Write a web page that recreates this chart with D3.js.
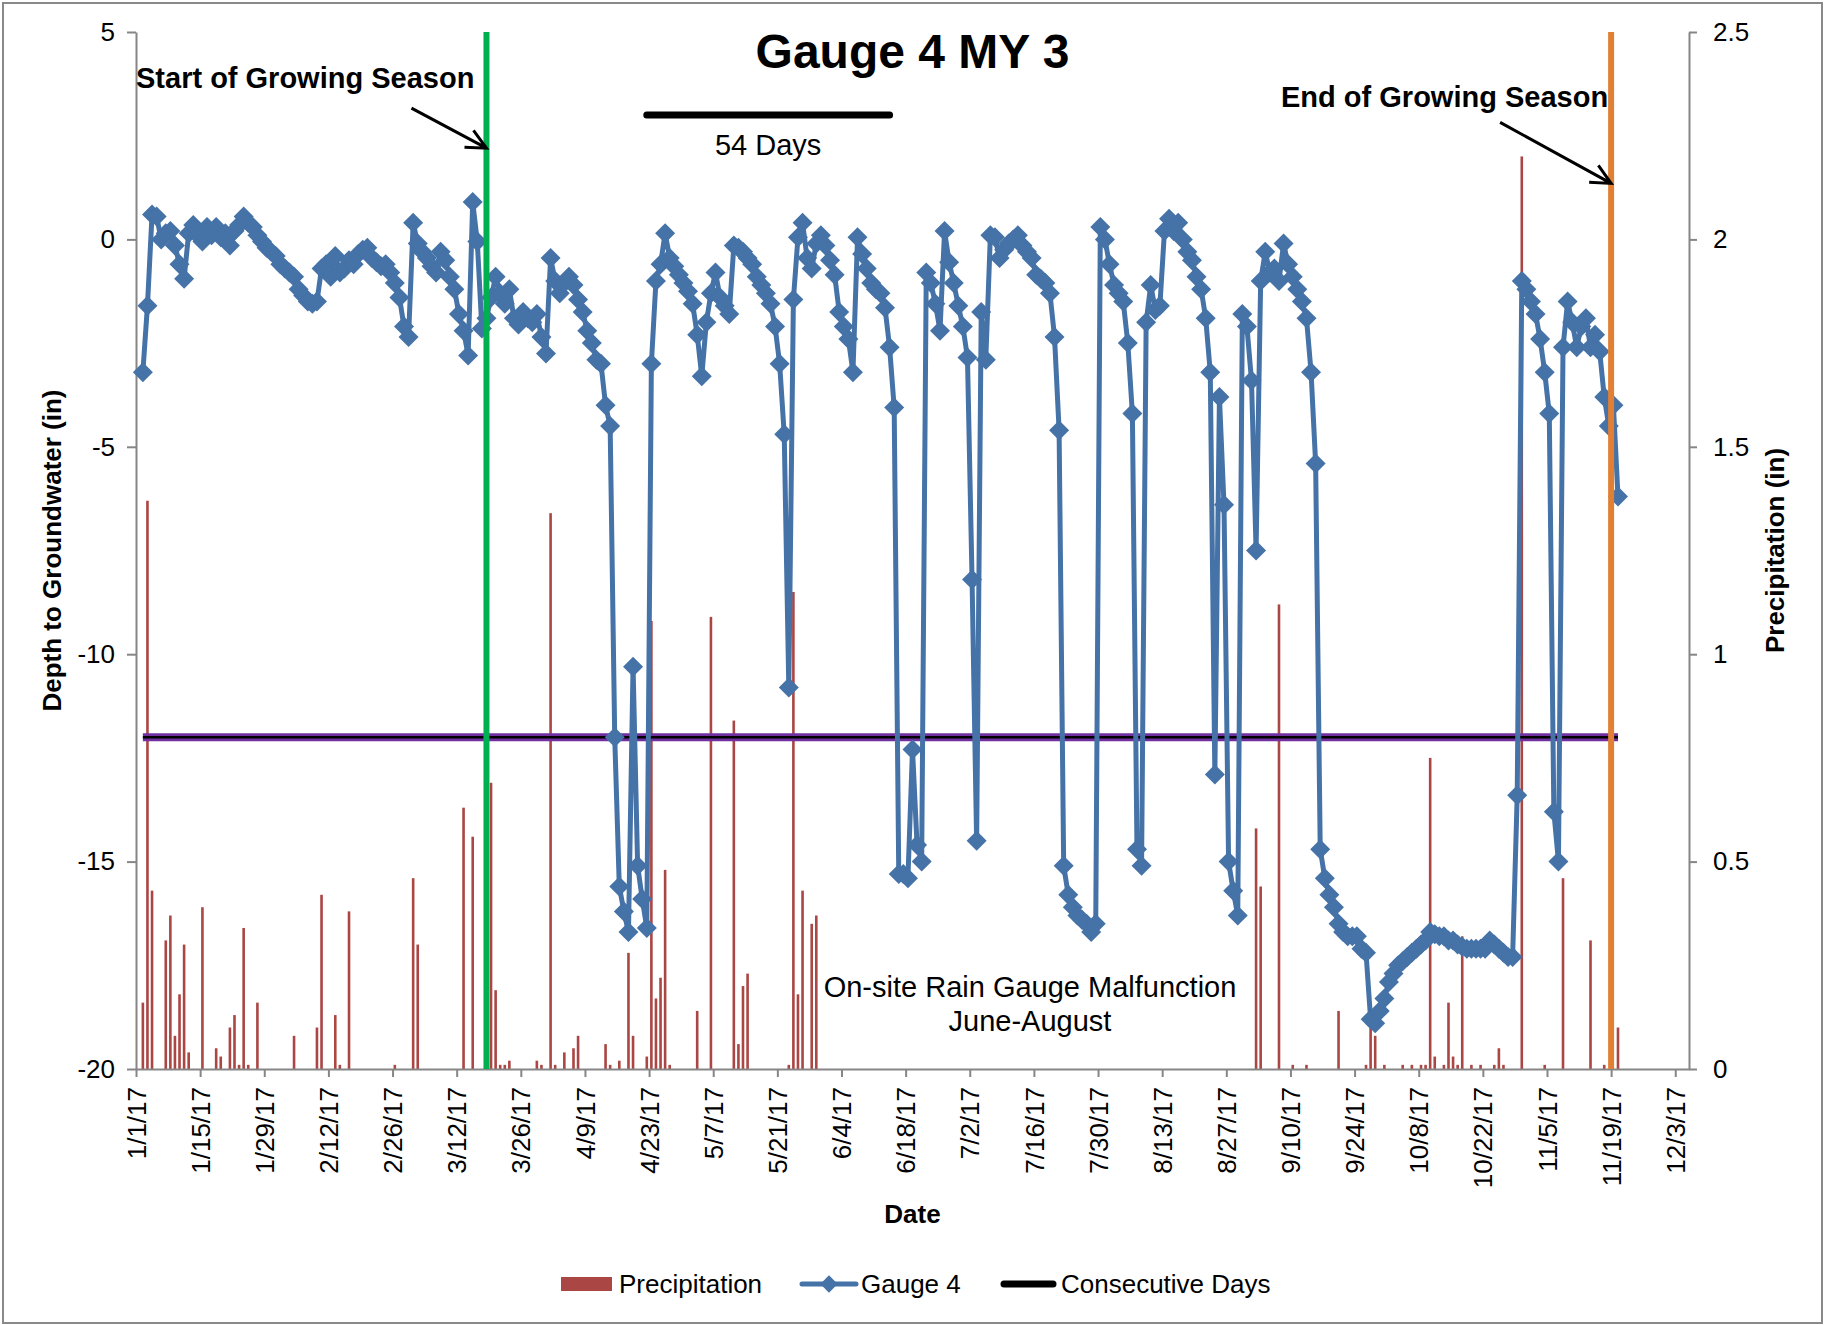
<!DOCTYPE html>
<html>
<head>
<meta charset="utf-8">
<script src="https://cdn.jsdelivr.net/npm/d3@7"></script>
<style>
  body { margin: 0; background: #fff; }
  svg { display: block; font-family: "Liberation Sans", Arial, sans-serif; }
</style>
</head>
<body>
<div id="chart"></div>
<script>
// Gauge 4 daily depth to groundwater (in), one value per day from gaugeStart
const gaugeStart = "1/2/17";
const gaugeDepth = [
  -3.2, -1.6, 0.6, 0.55, 0.0, 0.15, 0.2, -0.15, -0.6, -0.95,
  0.15, 0.35, 0.1, -0.05, 0.3, 0.1, 0.3, 0.05, 0.15, -0.15,
  0.2, 0.35, 0.55, 0.4, 0.3, 0.1, -0.05, -0.2, -0.3, -0.4,
  -0.6, -0.7, -0.8, -0.9, -1.2, -1.35, -1.5, -1.55, -1.5, -0.7,
  -0.6, -0.9, -0.4, -0.8, -0.7, -0.5, -0.6, -0.35, -0.25, -0.2,
  -0.45, -0.55, -0.65, -0.6, -0.8, -1.05, -1.4, -2.1, -2.35, 0.4,
  -0.1, -0.3, -0.45, -0.65, -0.8, -0.3, -0.5, -0.9, -1.2, -1.8,
  -2.2, -2.8, 0.9, -0.05, -2.15, -1.9, -1.4, -0.9, -1.3, -1.55,
  -1.2, -1.9, -2.05, -1.75, -1.9, -2.0, -1.8, -2.35, -2.75, -0.45,
  -1.0, -1.3, -1.05, -0.9, -1.1, -1.45, -1.75, -2.2, -2.5, -2.9,
  -3.0, -4.0, -4.5, -12.0, -15.6, -16.2, -16.7, -10.3, -15.1, -15.9,
  -16.6, -3.0, -1.0, -0.6, 0.15, -0.45, -0.65, -0.85, -1.05, -1.25,
  -1.55, -2.3, -3.3, -2.0, -1.3, -0.8, -1.4, -1.6, -1.8, -0.15,
  -0.2, -0.3, -0.45, -0.6, -0.9, -1.1, -1.3, -1.55, -2.1, -3.0,
  -4.7, -10.8, -1.45, 0.05, 0.4, -0.45, -0.7, -0.1, 0.1, -0.15,
  -0.5, -0.85, -1.75, -2.1, -2.4, -3.2, 0.05, -0.35, -0.7, -1.05,
  -1.2, -1.3, -1.65, -2.6, -4.05, -15.3, -15.3, -15.4, -12.3, -14.6,
  -15.0, -0.8, -1.05, -1.55, -2.2, 0.2, -0.55, -1.05, -1.6, -2.1,
  -2.85, -8.2, -14.5, -1.75, -2.9, 0.1, 0.05, -0.45, -0.25, -0.1,
  0.0, 0.1, -0.15, -0.3, -0.45, -0.85, -0.95, -1.05, -1.3, -2.35,
  -4.6, -15.1, -15.8, -16.1, -16.3, -16.4, -16.5, -16.7, -16.5, 0.3,
  0.0, -0.6, -1.1, -1.3, -1.5, -2.5, -4.2, -14.7, -15.1, -2.0,
  -1.1, -1.7, -1.6, 0.2, 0.5, 0.2, 0.4, 0.0, -0.3, -0.5,
  -0.9, -1.2, -1.9, -3.2, -12.9, -3.8, -6.4, -15.0, -15.7, -16.3,
  -1.8, -2.1, -3.4, -7.5, -1.0, -0.3, -0.8, -0.7, -1.0, -0.1,
  -0.6, -0.9, -1.2, -1.5, -1.9, -3.2, -5.4, -14.7, -15.4, -15.8,
  -16.1, -16.5, -16.7, -16.8, -16.8, -16.8, -17.1, -17.2, -18.8, -18.9,
  -18.6, -18.3, -17.9, -17.7, -17.5, -17.4, -17.3, -17.2, -17.1, -17.0,
  -16.9, -16.7, -16.75, -16.8, -16.8, -16.9, -16.9, -17.0, -17.05, -17.1,
  -17.1, -17.1, -17.1, -17.1, -16.9, -17.0, -17.1, -17.2, -17.3, -17.3,
  -13.4, -1.0, -1.2, -1.5, -1.8, -2.4, -3.2, -4.2, -13.8, -15.0,
  -2.6, -1.5, -2.0, -2.6, -2.1, -1.9, -2.6, -2.3, -2.7, -3.8,
  -4.5, -4.0, -6.2
];

// Precipitation (in)
const precipDates = [
  "1/2/17", "1/3/17", "1/4/17", "1/7/17", "1/8/17", "1/9/17", "1/10/17", "1/11/17", "1/12/17", "1/15/17",
  "1/18/17", "1/19/17", "1/21/17", "1/22/17", "1/23/17", "1/24/17", "1/25/17", "1/27/17", "2/4/17", "2/9/17",
  "2/10/17", "2/13/17", "2/14/17", "2/16/17", "2/26/17", "3/2/17", "3/3/17",
  "3/13/17", "3/15/17", "3/19/17", "3/20/17", "3/21/17", "3/22/17", "3/23/17", "3/29/17", "3/30/17",
  "4/1/17", "4/2/17", "4/4/17", "4/6/17", "4/7/17", "4/13/17", "4/14/17", "4/16/17", "4/18/17", "4/19/17",
  "4/22/17", "4/23/17", "4/24/17", "4/25/17", "4/26/17", "4/27/17", "5/3/17", "5/6/17", "5/11/17", "5/12/17",
  "5/13/17", "5/14/17",
  "5/23/17", "5/24/17", "5/25/17", "5/26/17", "5/28/17", "5/29/17",
  "9/2/17", "9/3/17", "9/7/17", "9/10/17", "9/13/17", "9/20/17", "9/26/17", "9/27/17", "9/28/17",
  "9/30/17", "10/4/17", "10/6/17", "10/8/17", "10/9/17", "10/10/17", "10/11/17", "10/13/17", "10/14/17", "10/15/17",
  "10/16/17", "10/17/17", "10/19/17", "10/21/17", "10/24/17", "10/25/17", "10/26/17", "10/30/17", "11/4/17", "11/8/17",
  "11/14/17", "11/17/17", "11/20/17"
];
const precipInches = [
  0.16, 1.37, 0.43, 0.31, 0.37, 0.08, 0.18, 0.30, 0.04, 0.39,
  0.05, 0.03, 0.10, 0.13, 0.01, 0.34, 0.01, 0.16, 0.08, 0.10,
  0.42, 0.13, 0.01, 0.38, 0.01, 0.46, 0.30,
  0.63, 0.56, 0.69, 0.19, 0.01, 0.01, 0.02, 0.02, 0.01,
  1.34, 0.01, 0.04, 0.05, 0.08, 0.06, 0.01, 0.02, 0.28, 0.08,
  0.03, 1.08, 0.17, 0.22, 0.48, 0.01, 0.14, 1.09, 0.84, 0.06,
  0.20, 0.23,
  0.01, 1.15, 0.18, 0.43, 0.35, 0.37,
  0.58, 0.44, 1.12, 0.01, 0.01, 0.14, 0.01, 0.10, 0.08,
  0.01, 0.01, 0.01, 0.01, 0.01, 0.75, 0.03, 0.01, 0.16, 0.03,
  0.01, 0.32, 0.01, 0.01, 0.01, 0.05, 0.01, 2.2, 0.01, 0.46,
  0.31, 0.01, 0.10
];

// Axis ticks
const xTickLabels = ["1/1/17", "1/15/17", "1/29/17", "2/12/17", "2/26/17", "3/12/17", "3/26/17", "4/9/17",
  "4/23/17", "5/7/17", "5/21/17", "6/4/17", "6/18/17", "7/2/17", "7/16/17", "7/30/17", "8/13/17", "8/27/17",
  "9/10/17", "9/24/17", "10/8/17", "10/22/17", "11/5/17", "11/19/17", "12/3/17"];
const depthTicks = [5, 0, -5, -10, -15, -20];
const precipTicks = [2.5, 2, 1.5, 1, 0.5, 0];

// Reference lines
const seasonStart = "3/18/17 12";
const seasonEnd = "11/19/17 0";
const thresholdDepth = -12;
const consecutiveStart = "4/22/17";
const consecutiveDays = 54;
const consecutiveDepth = 3;

// Dimensions
const width = 1825;
const height = 1325;
const marginTop = 32;
const marginRight = 136;
const marginBottom = 256;
const marginLeft = 136;

const parseDate = d3.timeParse("%m/%d/%y");
const parseDateHour = d3.timeParse("%m/%d/%y %H");
// Excel places points between tick marks: middle of the day
const mid = d => d3.timeHour.offset(d, 12);

const gauge = gaugeDepth.map((v, i) => ({date: d3.timeDay.offset(parseDate(gaugeStart), i), value: v}));
const precip = precipDates.map((d, i) => ({date: parseDate(d), value: precipInches[i]}));

// Scales
const x = d3.scaleTime([parseDate("1/1/17"), parseDate("12/6/17")], [marginLeft, width - marginRight]);
const y = d3.scaleLinear([-20, 5], [height - marginBottom, marginTop]);
const yP = d3.scaleLinear([0, 2.5], [height - marginBottom, marginTop]);

const blue = "#4572A7";
const red = "#AA4643";
const axisGrey = "#868686";

const svg = d3.create("svg")
    .attr("viewBox", [0, 0, width, height])
    .attr("width", width)
    .attr("height", height);

svg.append("rect")
    .attr("x", 3).attr("y", 3)
    .attr("width", width - 6).attr("height", height - 5)
    .attr("fill", "#fff")
    .attr("stroke", "#898989")
    .attr("stroke-width", 2);

// Precipitation bars
svg.append("g")
    .attr("fill", red)
    .selectAll("rect")
    .data(precip)
    .join("rect")
      .attr("x", d => x(mid(d.date)) - 1.3)
      .attr("width", 2.6)
      .attr("y", d => yP(d.value))
      .attr("height", d => yP(0) - yP(d.value));

// Axes
function styleAxis(g) {
  g.attr("font-family", null).attr("font-size", 26);
  g.select(".domain").attr("stroke", axisGrey).attr("stroke-width", 2);
  g.selectAll(".tick line").attr("stroke", axisGrey).attr("stroke-width", 2);
  g.selectAll(".tick text").attr("fill", "#000");
}

svg.append("g")
    .attr("transform", `translate(${marginLeft},0)`)
    .call(d3.axisLeft(y).tickValues(depthTicks).tickSize(9).tickSizeOuter(0).tickPadding(12).tickFormat(d => String(d)))
    .call(styleAxis);

svg.append("g")
    .attr("transform", `translate(${width - marginRight},0)`)
    .call(d3.axisRight(yP).tickValues(precipTicks).tickSize(8).tickSizeOuter(0).tickPadding(16).tickFormat(d => String(d)))
    .call(styleAxis);

svg.append("g")
    .attr("transform", `translate(0,${height - marginBottom})`)
    .call(d3.axisBottom(x).tickValues(xTickLabels.map(parseDate)).tickSize(8).tickSizeOuter(0).tickFormat((d, i) => xTickLabels[i]))
    .call(styleAxis)
    .call(g => g.selectAll(".tick text")
        .attr("transform", "rotate(-90)")
        .attr("text-anchor", "end")
        .attr("x", -18)
        .attr("y", 0)
        .attr("dy", "0.35em"));

// Threshold line (purple with black centre)
const first = gauge[0].date, last = gauge[gauge.length - 1].date;
svg.append("line")
    .attr("x1", x(mid(first))).attr("x2", x(mid(last)))
    .attr("y1", y(thresholdDepth)).attr("y2", y(thresholdDepth))
    .attr("stroke", "#7030A0").attr("stroke-width", 8);
svg.append("line")
    .attr("x1", x(mid(first))).attr("x2", x(mid(last)))
    .attr("y1", y(thresholdDepth)).attr("y2", y(thresholdDepth))
    .attr("stroke", "#000").attr("stroke-width", 2.5);

// Gauge 4 line and markers
const line = d3.line()
    .x(d => x(mid(d.date)))
    .y(d => y(d.value));

svg.append("path")
    .datum(gauge)
    .attr("fill", "none")
    .attr("stroke", blue)
    .attr("stroke-width", 5)
    .attr("stroke-linejoin", "round")
    .attr("d", line);

const diamond = d3.symbol(d3.symbolSquare, 200)();
svg.append("g")
    .attr("fill", blue)
    .selectAll("path")
    .data(gauge)
    .join("path")
      .attr("transform", d => `translate(${x(mid(d.date))},${y(d.value)}) rotate(45)`)
      .attr("d", diamond);

// Growing season lines
svg.append("line")
    .attr("x1", x(parseDateHour(seasonStart))).attr("x2", x(parseDateHour(seasonStart)))
    .attr("y1", marginTop).attr("y2", height - marginBottom)
    .attr("stroke", "#00B050").attr("stroke-width", 6);
svg.append("line")
    .attr("x1", x(parseDateHour(seasonEnd))).attr("x2", x(parseDateHour(seasonEnd)))
    .attr("y1", marginTop).attr("y2", height - marginBottom)
    .attr("stroke", "#E17F35").attr("stroke-width", 6);

// Consecutive days bar
const cStart = mid(parseDate(consecutiveStart));
const cEnd = d3.timeDay.offset(cStart, consecutiveDays - 1);
svg.append("line")
    .attr("x1", x(cStart)).attr("x2", x(cEnd))
    .attr("y1", y(consecutiveDepth)).attr("y2", y(consecutiveDepth))
    .attr("stroke", "#000").attr("stroke-width", 7).attr("stroke-linecap", "round");
svg.append("text")
    .attr("x", (x(cStart) + x(cEnd)) / 2)
    .attr("y", 155)
    .attr("text-anchor", "middle")
    .attr("font-size", 29)
    .text(`${consecutiveDays} Days`);

// Arrows
function arrow(tip, dx, dy) {
  const tail = [tip[0] + dx, tip[1] + dy];
  const a = Math.atan2(-dy, -dx);
  const arm = 22, spread = 0.45;
  const p1 = [tip[0] - arm * Math.cos(a - spread), tip[1] - arm * Math.sin(a - spread)];
  const p2 = [tip[0] - arm * Math.cos(a + spread), tip[1] - arm * Math.sin(a + spread)];
  svg.append("path")
      .attr("d", `M${tail}L${tip}M${p1}L${tip}L${p2}`)
      .attr("fill", "none")
      .attr("stroke", "#000")
      .attr("stroke-width", 3);
}
arrow([x(parseDateHour(seasonStart)), y(2.2)], -75, -40);
arrow([x(parseDateHour(seasonEnd)), y(1.35)], -111, -61);

// Annotations
svg.append("text")
    .attr("x", marginLeft).attr("y", 88)
    .attr("font-size", 29).attr("font-weight", "bold")
    .text("Start of Growing Season");
svg.append("text")
    .attr("x", x(parseDateHour(seasonEnd)) - 3).attr("y", 107)
    .attr("text-anchor", "end")
    .attr("font-size", 29).attr("font-weight", "bold")
    .text("End of Growing Season");
svg.append("text")
    .attr("x", width / 2).attr("y", 68)
    .attr("text-anchor", "middle")
    .attr("font-size", 48).attr("font-weight", "bold")
    .text("Gauge 4 MY 3");
svg.append("text")
    .attr("x", 1030).attr("y", 997)
    .attr("text-anchor", "middle")
    .attr("font-size", 29)
    .call(t => t.append("tspan").text("On-site Rain Gauge Malfunction"))
    .call(t => t.append("tspan").attr("x", 1030).attr("dy", 34).text("June-August"));

// Axis titles
svg.append("text")
    .attr("transform", `translate(52,${(marginTop + height - marginBottom) / 2}) rotate(-90)`)
    .attr("text-anchor", "middle").attr("dy", "0.35em")
    .attr("font-size", 26).attr("font-weight", "bold")
    .text("Depth to Groundwater (in)");
svg.append("text")
    .attr("transform", `translate(1775,${(marginTop + height - marginBottom) / 2}) rotate(-90)`)
    .attr("text-anchor", "middle").attr("dy", "0.35em")
    .attr("font-size", 26).attr("font-weight", "bold")
    .text("Precipitation (in)");
svg.append("text")
    .attr("x", width / 2).attr("y", 1223)
    .attr("text-anchor", "middle")
    .attr("font-size", 26).attr("font-weight", "bold")
    .text("Date");

// Legend
const legend = svg.append("g")
    .attr("transform", "translate(0,1284)")
    .attr("font-size", 26);
legend.append("rect")
    .attr("x", 561).attr("y", -7).attr("width", 51).attr("height", 14)
    .attr("fill", red);
legend.append("text").attr("x", 619).attr("dy", "0.35em").text("Precipitation");
legend.append("line")
    .attr("x1", 802).attr("x2", 856)
    .attr("stroke", blue).attr("stroke-width", 5).attr("stroke-linecap", "round");
legend.append("path")
    .attr("transform", "translate(829,0) rotate(45)")
    .attr("d", d3.symbol(d3.symbolSquare, 150)())
    .attr("fill", blue);
legend.append("text").attr("x", 861).attr("dy", "0.35em").text("Gauge 4");
legend.append("line")
    .attr("x1", 1004).attr("x2", 1053)
    .attr("stroke", "#000").attr("stroke-width", 7).attr("stroke-linecap", "round");
legend.append("text").attr("x", 1061).attr("dy", "0.35em").text("Consecutive Days");

document.getElementById("chart").appendChild(svg.node());
</script>
</body>
</html>
